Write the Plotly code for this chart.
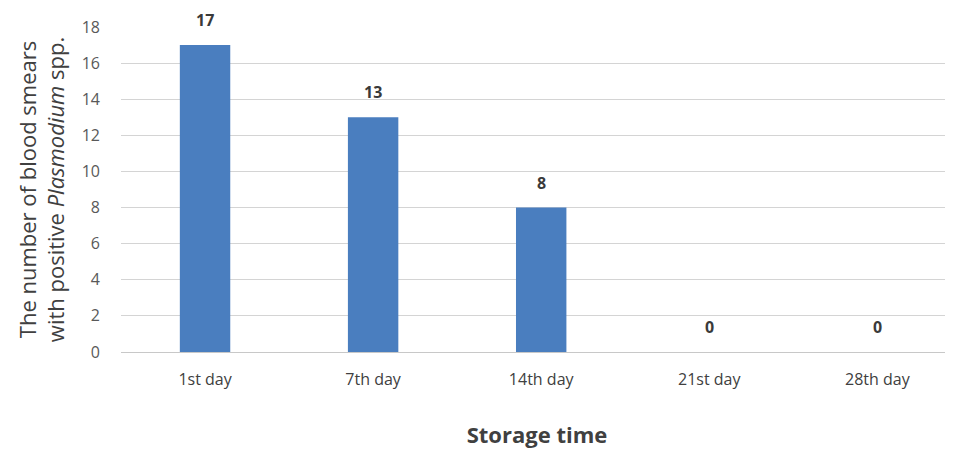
import plotly.graph_objects as go

categories = ["1st day", "7th day", "14th day", "21st day", "28th day"]
values = [17, 13, 8, 0, 0]
y_ticks = [0, 2, 4, 6, 8, 10, 12, 14, 16, 18]

FONT = "Open Sans, sans-serif"

fig = go.Figure()
fig.add_trace(go.Bar(
    x=categories, y=values, width=0.30,
    marker=dict(color="#4a7ebf", line=dict(width=0)),
    showlegend=False, hoverinfo="x+y",
))

for c, v in zip(categories, values):
    fig.add_annotation(x=c, y=v, text=f"<b>{v}</b>", showarrow=False,
                       yshift=25, font=dict(family=FONT, size=16, color="#3a3a3a"))

fig.update_layout(
    width=953, height=453,
    margin=dict(l=113, r=8, t=12, b=109),
    paper_bgcolor="white", plot_bgcolor="white",
    font=dict(family=FONT, color="#595959"),
    xaxis=dict(
        range=[-0.5, 4.45], showgrid=False, showline=False, zeroline=False,
        ticks="", ticklabelstandoff=16, tickfont=dict(size=16, color="#404040"),
        title=dict(text="<b>Storage time</b>", font=dict(size=22, color="#404040"), standoff=38),
    ),
    yaxis=dict(
        range=[0, 18], tickvals=y_ticks, showgrid=True, gridcolor="#d4d4d4", gridwidth=1,
        zeroline=True, zerolinecolor="#c8c8c8", zerolinewidth=1,
        showline=False, ticks="", ticklabelstandoff=20,
        tickfont=dict(size=16, color="#595959"),
        title=dict(text="The number of blood smears<br>with positive <i>Plasmodium</i> spp.",
                   font=dict(size=22, color="#404040"), standoff=10),
    ),
)

fig.write_html("out.html")
